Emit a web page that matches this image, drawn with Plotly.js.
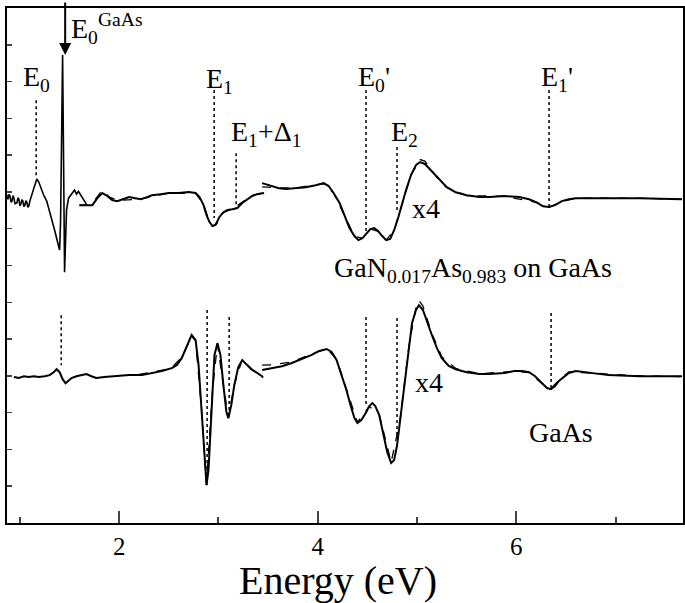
<!DOCTYPE html>
<html><head><meta charset="utf-8">
<script src="https://cdn.plot.ly/plotly-3.0.1.min.js"></script>
<style>body{margin:0;background:#fff}#c{width:685px;height:603px}</style>
</head><body><div id="c"></div>
<script>
// ---- GaN0.017As0.983 on GaAs : raw low-energy data ----
const upRawX = [0.86,0.87,0.88,0.89,0.90,0.91,0.92,0.93,0.94,0.95,0.97,0.98,0.99,1.00,1.01,1.02,1.03,1.04,1.05,1.06,1.07,1.08,1.09,1.10,1.12,1.14,1.17,1.19,1.21,1.24,1.27,1.29,1.31,1.33,1.35,1.37,1.39,1.40,1.41,1.42,1.43,1.44,1.45,1.46,1.47,1.49,1.51,1.53,1.55,1.57,1.59,1.60,1.63,1.67];
const upRawY = [8.97,8.86,8.80,8.93,8.89,8.72,8.75,8.90,8.83,8.68,8.70,8.84,8.80,8.62,8.67,8.79,8.75,8.60,8.64,8.76,8.72,8.58,8.62,8.75,8.91,9.13,9.35,9.27,9.10,8.91,8.75,8.56,8.40,8.18,7.96,7.74,7.53,7.42,8.23,10.95,12.72,9.86,6.82,7.69,8.51,8.83,8.91,9.00,9.05,8.94,9.02,8.97,8.83,8.67];
// ---- GaN0.017As0.983 on GaAs : smoothed data 1.6-3.46 eV ----
const upAX = [1.60,1.73,1.78,1.83,1.88,1.93,1.98,2.04,2.10,2.16,2.22,2.28,2.33,2.42,2.50,2.60,2.70,2.77,2.81,2.85,2.88,2.91,2.94,2.97,3.01,3.05,3.09,3.14,3.19,3.24,3.29,3.34,3.39,3.46];
const upAY = [8.64,8.64,8.83,8.97,8.89,8.78,8.75,8.80,8.86,8.83,8.80,8.86,8.91,8.94,8.97,8.97,9.00,8.97,8.86,8.64,8.37,8.18,8.07,8.10,8.32,8.45,8.51,8.53,8.56,8.70,8.80,8.89,8.94,8.97];
const upAFitX = [1.60,1.70,1.76,1.83,1.90,2.00,2.20,2.50,2.77,2.85,2.91,2.94,2.98,3.05,3.14,3.24,3.34,3.46];
const upAFitY = [8.64,8.64,8.80,9.05,8.86,8.77,8.80,8.97,8.96,8.66,8.20,8.08,8.12,8.44,8.54,8.72,8.90,8.99];
// ---- GaN0.017As0.983 on GaAs : x4 segment ----
const upBX = [3.44,3.51,3.61,3.68,3.78,3.88,3.98,4.06,4.11,4.16,4.22,4.27,4.32,4.37,4.41,4.45,4.49,4.53,4.57,4.61,4.65,4.69,4.73,4.77,4.81,4.85,4.89,4.94,4.99,5.03,5.08,5.14,5.22,5.30,5.39,5.50,5.63,5.73,5.88,6.03,6.13,6.20,6.27,6.33,6.39,6.46,6.53,6.60,6.78,6.93,7.24,7.67];
const upBY = [9.24,9.18,9.10,9.08,9.10,9.13,9.18,9.24,9.16,8.97,8.70,8.34,8.02,7.80,7.69,7.74,7.88,7.99,8.02,7.93,7.80,7.69,7.72,7.96,8.29,8.70,9.05,9.46,9.73,9.81,9.76,9.59,9.35,9.13,8.99,8.91,8.86,8.86,8.89,8.86,8.80,8.72,8.61,8.59,8.64,8.75,8.80,8.83,8.83,8.83,8.83,8.80];
const upBFitX = [3.44,3.52,3.62,3.78,3.98,4.06,4.16,4.27,4.37,4.45,4.53,4.61,4.69,4.77,4.85,4.94,5.03,5.08,5.14,5.22,5.30,5.50,5.88,6.20,6.33,6.46,6.60,7.24,7.67];
const upBFitY = [9.14,9.12,9.11,9.11,9.18,9.22,8.97,8.34,7.80,7.74,7.99,7.93,7.69,7.96,8.70,9.46,9.88,9.84,9.62,9.33,9.12,8.90,8.88,8.72,8.58,8.74,8.83,8.83,8.80];
// ---- GaAs : low-energy segment ----
const loAX = [0.94,0.99,1.04,1.09,1.14,1.19,1.25,1.30,1.34,1.37,1.40,1.43,1.46,1.49,1.52,1.57,1.62,1.67,1.72,1.77,1.85,1.97,2.10,2.23,2.35,2.43,2.53,2.58,2.63,2.68,2.73,2.77,2.80,2.83,2.86,2.88,2.90,2.92,2.94,2.96,2.99,3.02,3.05,3.08,3.10,3.13,3.16,3.20,3.24,3.28,3.33,3.39,3.45];
const loAY = [3.97,3.94,3.99,3.97,3.99,3.97,3.99,4.02,4.10,4.18,4.10,3.91,3.80,3.86,3.94,3.99,4.02,4.05,3.99,3.94,3.97,3.99,4.02,4.02,4.08,4.13,4.21,4.29,4.48,4.78,5.11,4.97,4.29,3.07,1.71,1.03,1.44,2.53,3.61,4.57,4.89,4.57,3.75,3.02,2.85,3.21,3.75,4.24,4.43,4.32,4.18,4.08,3.97];
const loAFitX = [2.20,2.35,2.45,2.53,2.63,2.73,2.77,2.83,2.88,2.94,2.99,3.05,3.10,3.16,3.24,3.33,3.45];
const loAFitY = [4.04,4.10,4.16,4.23,4.50,5.08,4.95,3.10,1.05,3.62,4.86,3.74,2.87,3.76,4.45,4.20,3.95];
// ---- GaAs : x4 segment ----
const loBX = [3.44,3.54,3.64,3.74,3.84,3.94,4.01,4.09,4.14,4.19,4.24,4.29,4.33,4.37,4.40,4.44,4.49,4.52,4.55,4.58,4.62,4.66,4.70,4.74,4.77,4.80,4.83,4.86,4.89,4.92,4.95,4.99,5.02,5.06,5.10,5.15,5.20,5.25,5.32,5.39,5.50,5.63,5.73,5.88,5.98,6.06,6.13,6.19,6.26,6.31,6.35,6.39,6.43,6.48,6.53,6.60,6.73,6.93,7.24,7.67];
const loBY = [4.16,4.21,4.26,4.35,4.46,4.57,4.67,4.73,4.65,4.43,4.02,3.61,3.21,2.85,2.72,2.80,3.02,3.18,3.26,3.18,2.93,2.47,1.93,1.63,1.71,2.12,2.80,3.53,4.16,4.84,5.43,5.79,5.92,5.79,5.46,5.11,4.76,4.48,4.27,4.18,4.10,4.05,4.05,4.08,4.13,4.13,4.10,3.99,3.80,3.67,3.64,3.72,3.86,3.97,4.08,4.13,4.08,4.02,3.99,3.99];
const loBFitX = [3.44,3.54,3.74,3.94,4.09,4.19,4.29,4.40,4.52,4.62,4.74,4.83,4.92,4.99,5.02,5.06,5.15,5.25,5.39,5.63,5.98,6.13,6.26,6.35,6.43,6.53,6.73,7.24,7.67];
const loBFitY = [4.29,4.30,4.38,4.60,4.75,4.45,3.62,2.74,3.17,2.95,1.65,2.80,4.84,5.86,6.05,5.90,5.15,4.52,4.20,4.06,4.12,4.09,3.79,3.66,3.88,4.11,4.08,4.00,3.98];
// ---- critical-point markers (dotted) ----
const markX    = [1.164,2.957,3.178,4.487,4.799,6.331, 1.416,2.886,3.108,4.487,4.799,6.351];
const markTop  = [11.49,11.77,10.05,11.77,10.22,11.77, 5.65,5.79,5.60,5.60,5.57,5.71];
const markBot  = [9.38,8.29,8.56,7.91,8.45,8.59, 4.29,1.03,2.88,3.21,2.34,3.67];
// ---- labels ----
const labText = ["E<sub>0</sub>","E<sub>1</sub>","E<sub>1</sub>+Δ<sub>1</sub>","E<sub>0</sub>'","E<sub>2</sub>","E<sub>1</sub>'","x4","x4","GaN<sub>0.017</sub>As<sub>0.983</sub> on GaAs","GaAs","E<sub>0</sub><sup>GaAs</sup>"];
const labX = [1.01,2.85,3.11,4.39,4.72,6.23,4.93,4.96,4.14,6.11,1.49];
const labY = [12.09,12.04,10.60,12.09,10.60,12.09,8.56,3.83,6.88,2.45,13.45];
const arrowX = 1.456, arrowY = 12.72;
const xTitle = 'Energy (eV)';

const solid = {color:'#000', width:2};
const dashed = {color:'#000', width:1.3, dash:'dash'};
const traces = [];
function add(x,y,line){traces.push({x:x,y:y,mode:'lines',line:line,hoverinfo:'skip',showlegend:false});}
add(upAFitX,upAFitY,dashed); add(upBFitX,upBFitY,dashed);
add(loAFitX,loAFitY,dashed); add(loBFitX,loBFitY,dashed);
add(upRawX,upRawY,{color:'#000',width:1.6});
add(upAX,upAY,solid); add(upBX,upBY,solid); add(loAX,loAY,solid); add(loBX,loBY,solid);
for(let i=0;i<markX.length;i++){
  add([markX[i],markX[i]],[markTop[i],markBot[i]],{color:'#000',width:1.5,dash:'dot'});
}
const F = '"Liberation Serif", "Times New Roman", Times, serif';
const ann = labText.map((t,i)=>({x:labX[i],y:labY[i],xref:'x',yref:'y',text:t,showarrow:false,
  xanchor:'left',yanchor:'middle',font:{family:F,size:28,color:'#000'}}));
ann.push({x:arrowX,y:arrowY,xref:'x',yref:'y',text:'',showarrow:true,ax:0,ay:-54,
  arrowhead:2,arrowsize:1.2,arrowwidth:2,arrowcolor:'#000'});
ann.push({x:0.49,y:-0.111,xref:'paper',yref:'paper',text:xTitle,showarrow:false,
  xanchor:'center',yanchor:'middle',font:{family:F,size:40,color:'#000'}});

const layout = {
  width:685,height:603,margin:{l:7,r:2,t:8,b:80},
  paper_bgcolor:'#fff',plot_bgcolor:'#fff',showlegend:false,
  font:{family:F,color:'#000'},
  xaxis:{range:[0.87,7.68],tick0:0,dtick:2,ticks:'inside',ticklen:12,tickwidth:2,
    minor:{dtick:1,ticks:'inside',ticklen:6,tickwidth:2,showgrid:false},
    showline:true,linewidth:2,linecolor:'#000',mirror:true,showgrid:false,zeroline:false,
    tickfont:{family:F,size:25}},
  yaxis:{range:[0,14],tick0:0,dtick:1,ticks:'inside',ticklen:5,tickwidth:1.5,showticklabels:false,
    showline:true,linewidth:2,linecolor:'#000',mirror:true,showgrid:false,zeroline:false},
  annotations:ann
};
Plotly.newPlot('c',traces,layout,{staticPlot:true});
</script></body></html>
